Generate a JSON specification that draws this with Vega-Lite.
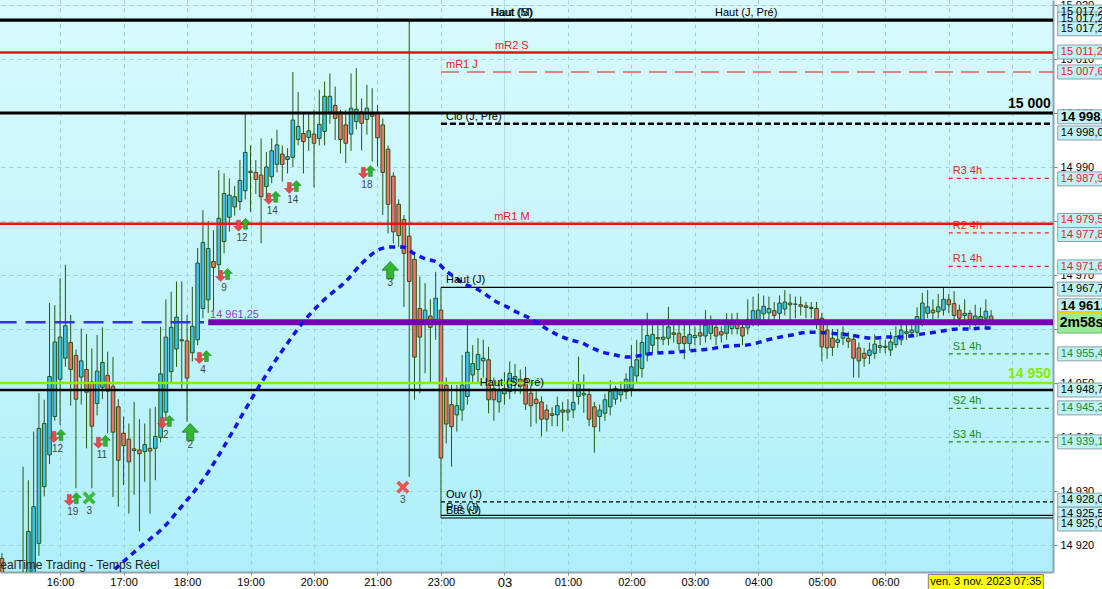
{
"$schema":"https://vega.github.io/schema/vega-lite/v6.json",
"width":1053,"height":572,
"autosize":{"type":"none"},
"padding":{"left":0,"top":0,"right":49,"bottom":17},
"background":"white",
"config":{"view":{"stroke":null,"fill":{"gradient":"linear","x1":0,"y1":0,"x2":0,"y2":1,"stops":[{"offset":0,"color":"#d8fafd"},{"offset":1,"color":"#aeeffa"}]}},"text":{"font":"Liberation Sans"},"axis":{"labelFont":"Liberation Sans"}},
"resolve":{"scale":{"color":"independent","strokeDash":"independent"}},
"datasets":{
"c":[
{"k":1,"o":14917.5,"h":14918.5,"l":14910,"c":14913},
{"k":5,"o":14905,"h":14934.5,"l":14903,"c":14912},
{"k":6,"o":14914,"h":14932,"l":14911,"c":14922.5},
{"k":7,"o":14913,"h":14941,"l":14911,"c":14927.1},
{"k":8,"o":14920.3,"h":14948.1,"l":14918,"c":14941.6},
{"k":9,"o":14930.8,"h":14946.9,"l":14929,"c":14942.5},
{"k":10,"o":14936.7,"h":14964.8,"l":14935,"c":14951.2},
{"k":11,"o":14943.8,"h":14964.4,"l":14943,"c":14957.6},
{"k":12,"o":14950.7,"h":14969.4,"l":14942.2,"c":14958.5},
{"k":13,"o":14954.6,"h":14971.9,"l":14953,"c":14960.6},
{"k":14,"o":14957.5,"h":14962.6,"l":14945.8,"c":14952.5},
{"k":15,"o":14955.1,"h":14956.2,"l":14930.5,"c":14947.0},
{"k":16,"o":14951.1,"h":14960.1,"l":14946,"c":14954.1},
{"k":17,"o":14952.5,"h":14959.1,"l":14937.9,"c":14948.3},
{"k":18,"o":14950.2,"h":14956.4,"l":14930.5,"c":14942.0},
{"k":19,"o":14946.2,"h":14958.9,"l":14944,"c":14952.2},
{"k":20,"o":14949.2,"h":14960.3,"l":14947,"c":14953.8},
{"k":21,"o":14951.4,"h":14955.8,"l":14940.7,"c":14948.5},
{"k":22,"o":14949.4,"h":14954.8,"l":14928.9,"c":14940.9},
{"k":23,"o":14945.6,"h":14947,"l":14927.1,"c":14935.7},
{"k":24,"o":14940.7,"h":14943.8,"l":14931.1,"c":14938.4},
{"k":25,"o":14939.6,"h":14942.5,"l":14925.8,"c":14935.4},
{"k":26,"o":14937.8,"h":14946.5,"l":14929.3,"c":14937.5},
{"k":27,"o":14937.6,"h":14943.3,"l":14922.5,"c":14936.9},
{"k":28,"o":14937.3,"h":14942.5,"l":14931.7,"c":14938.6},
{"k":29,"o":14937.9,"h":14945.3,"l":14925.8,"c":14937.4},
{"k":30,"o":14937.9,"h":14945.6,"l":14932,"c":14940.1},
{"k":31,"o":14939.9,"h":14960.4,"l":14939,"c":14951.7},
{"k":32,"o":14944.6,"h":14965.5,"l":14943,"c":14958.5},
{"k":33,"o":14952.1,"h":14966.9,"l":14950,"c":14960.3},
{"k":34,"o":14956.3,"h":14968.8,"l":14953,"c":14962.2},
{"k":35,"o":14958,"h":14968.8,"l":14949,"c":14957.8},
{"k":36,"o":14957.8,"h":14962.6,"l":14942.8,"c":14950.9},
{"k":37,"o":14955.6,"h":14967.8,"l":14954,"c":14960.5},
{"k":38,"o":14958,"h":14975,"l":14957,"c":14972.2},
{"k":39,"o":14963.8,"h":14982,"l":14962,"c":14976},
{"k":40,"o":14965.4,"h":14980,"l":14963,"c":14974.9},
{"k":41,"o":14972.5,"h":14978.3,"l":14963.5,"c":14971.4},
{"k":42,"o":14971.9,"h":14989.4,"l":14970,"c":14980.5},
{"k":43,"o":14976.2,"h":14988.8,"l":14974,"c":14985.1},
{"k":44,"o":14980.7,"h":14987.9,"l":14978,"c":14984.8},
{"k":45,"o":14982.6,"h":14986.5,"l":14981,"c":14984.5},
{"k":46,"o":14983.6,"h":14991.3,"l":14982,"c":14987.5},
{"k":47,"o":14985.6,"h":15000.2,"l":14984,"c":14992.7},
{"k":48,"o":14989.2,"h":14994,"l":14981.7,"c":14989},
{"k":49,"o":14989,"h":14991.3,"l":14985,"c":14987.7},
{"k":50,"o":14988.5,"h":14995.3,"l":14975.9,"c":14984.5},
{"k":51,"o":14986.4,"h":14992.8,"l":14984,"c":14990},
{"k":52,"o":14988.2,"h":14995.3,"l":14987,"c":14993},
{"k":53,"o":14990.5,"h":14996.9,"l":14989,"c":14994.1},
{"k":54,"o":14992.4,"h":14994,"l":14987.3,"c":14990.5},
{"k":55,"o":14991.4,"h":14993.5,"l":14988.8,"c":14991.9},
{"k":56,"o":14991.8,"h":15007.6,"l":14990,"c":14998.7},
{"k":57,"o":14995.1,"h":15003.9,"l":14994,"c":14997.5},
{"k":58,"o":14996.2,"h":15000,"l":14988.8,"c":14994.7},
{"k":59,"o":14995.5,"h":15000.2,"l":14993,"c":14996.7},
{"k":60,"o":14996.1,"h":15000.6,"l":14986.2,"c":14994.4},
{"k":61,"o":14995.3,"h":15004.3,"l":14994,"c":14997.9},
{"k":62,"o":14996.6,"h":15005.8,"l":14994,"c":15003.1},
{"k":63,"o":15000,"h":15007.3,"l":14998,"c":15003.1},
{"k":64,"o":15001.4,"h":15004.9,"l":14995,"c":14999},
{"k":65,"o":15000.2,"h":15000.6,"l":14992.5,"c":14995.1},
{"k":66,"o":14997.8,"h":15000.6,"l":14990.7,"c":14994.4},
{"k":67,"o":14996.1,"h":15007.3,"l":14993,"c":15000.9},
{"k":68,"o":14998.4,"h":15008.3,"l":14997,"c":15000.7},
{"k":69,"o":15000.2,"h":15002.7,"l":14993.1,"c":14998.1},
{"k":70,"o":14998.8,"h":15005.2,"l":14996,"c":15000.9},
{"k":71,"o":14999.8,"h":15004.6,"l":14991,"c":14999.4},
{"k":72,"o":15000,"h":15001.5,"l":14990.1,"c":14995.4},
{"k":73,"o":14997.8,"h":14999,"l":14981.1,"c":14989},
{"k":74,"o":14993.3,"h":14994,"l":14977.7,"c":14983.1},
{"k":75,"o":14988.3,"h":14989,"l":14975.9,"c":14978},
{"k":76,"o":14983.1,"h":14984,"l":14975.2,"c":14977.3},
{"k":77,"o":14980.3,"h":14981.1,"l":14964.1,"c":14974},
{"k":78,"o":14977.2,"h":15017.2,"l":14932.6,"c":14968.8},
{"k":79,"o":14972.9,"h":14974,"l":14946.9,"c":14954.8},
{"k":80,"o":14963.8,"h":14969.7,"l":14948.1,"c":14958.5},
{"k":81,"o":14961.3,"h":14968.5,"l":14951.8,"c":14963.5},
{"k":82,"o":14962.4,"h":14965.5,"l":14949.9,"c":14960.3},
{"k":83,"o":14961.7,"h":14970.6,"l":14958,"c":14965.7},
{"k":84,"o":14963.5,"h":14967.7,"l":14925,"c":14936.1},
{"k":85,"o":14949.6,"h":14951,"l":14938.8,"c":14942.4},
{"k":86,"o":14946,"h":14949.6,"l":14934.5,"c":14941.9},
{"k":87,"o":14944.1,"h":14949.6,"l":14941,"c":14945.8},
{"k":88,"o":14945,"h":14955.2,"l":14943,"c":14949.6},
{"k":89,"o":14947.5,"h":14961.7,"l":14946,"c":14955.7},
{"k":90,"o":14951.5,"h":14957,"l":14950,"c":14953.6},
{"k":91,"o":14952.5,"h":14958.3,"l":14950,"c":14955.3},
{"k":92,"o":14954.1,"h":14958,"l":14951,"c":14954.6},
{"k":93,"o":14954.3,"h":14956.7,"l":14944.4,"c":14946.9},
{"k":94,"o":14949,"h":14951,"l":14943,"c":14946.9},
{"k":95,"o":14946.5,"h":14950.5,"l":14944.5,"c":14948.6},
{"k":96,"o":14948,"h":14952,"l":14946,"c":14949},
{"k":97,"o":14948.4,"h":14954,"l":14947,"c":14951.8},
{"k":98,"o":14949.9,"h":14953.5,"l":14948,"c":14951.2},
{"k":99,"o":14950.7,"h":14952.5,"l":14948,"c":14949.4},
{"k":100,"o":14950.6,"h":14953,"l":14945,"c":14946.1},
{"k":101,"o":14948.1,"h":14949.5,"l":14941.9,"c":14945.8},
{"k":102,"o":14947,"h":14948.5,"l":14942.5,"c":14946.2},
{"k":103,"o":14946.5,"h":14947.5,"l":14940.1,"c":14943.3},
{"k":104,"o":14945,"h":14946,"l":14941,"c":14943.3},
{"k":105,"o":14944.3,"h":14945.5,"l":14942,"c":14944},
{"k":106,"o":14944.1,"h":14947.5,"l":14942,"c":14945.8},
{"k":107,"o":14945,"h":14946.5,"l":14941,"c":14944.6},
{"k":108,"o":14944.6,"h":14947,"l":14943,"c":14945},
{"k":109,"o":14945,"h":14950.5,"l":14943.5,"c":14946.4},
{"k":110,"o":14947.5,"h":14954.9,"l":14946,"c":14949.8},
{"k":111,"o":14947.8,"h":14951.6,"l":14944.5,"c":14948.1},
{"k":112,"o":14947.9,"h":14949,"l":14942,"c":14943.3},
{"k":113,"o":14945.6,"h":14946.5,"l":14937.1,"c":14941.9},
{"k":114,"o":14943.8,"h":14946,"l":14941,"c":14945},
{"k":115,"o":14944.4,"h":14948,"l":14943,"c":14946.9},
{"k":116,"o":14945.6,"h":14950.5,"l":14944,"c":14948.4},
{"k":117,"o":14947,"h":14949.5,"l":14946,"c":14949},
{"k":118,"o":14947.8,"h":14950.3,"l":14946.5,"c":14948.7},
{"k":119,"o":14948.4,"h":14951.8,"l":14947,"c":14950.7},
{"k":120,"o":14949,"h":14957,"l":14947.5,"c":14953},
{"k":121,"o":14951.3,"h":14958,"l":14950,"c":14954.3},
{"k":122,"o":14952.7,"h":14961.7,"l":14951,"c":14957.5},
{"k":123,"o":14955.2,"h":14963,"l":14954,"c":14958.8},
{"k":124,"o":14957,"h":14961.5,"l":14955.5,"c":14959},
{"k":125,"o":14958.4,"h":14960.7,"l":14955.5,"c":14958.2},
{"k":126,"o":14958.1,"h":14961,"l":14957,"c":14958.5},
{"k":127,"o":14958.3,"h":14964.1,"l":14957,"c":14960.4},
{"k":128,"o":14959.3,"h":14961,"l":14957.5,"c":14959},
{"k":129,"o":14959.2,"h":14961.5,"l":14956,"c":14957.3},
{"k":130,"o":14958.6,"h":14961,"l":14954.4,"c":14957.3},
{"k":131,"o":14957.3,"h":14961,"l":14956,"c":14959},
{"k":132,"o":14958.4,"h":14960.5,"l":14957,"c":14958.8},
{"k":133,"o":14959.3,"h":14961,"l":14957,"c":14958.7},
{"k":134,"o":14958.7,"h":14963.5,"l":14957.5,"c":14960.7},
{"k":135,"o":14959.2,"h":14962.5,"l":14958,"c":14961},
{"k":136,"o":14960.3,"h":14961.5,"l":14957,"c":14958.7},
{"k":137,"o":14959.5,"h":14960.5,"l":14957.5,"c":14958.9},
{"k":138,"o":14959.2,"h":14962.9,"l":14958,"c":14961},
{"k":139,"o":14960.1,"h":14962.9,"l":14959,"c":14960.9},
{"k":140,"o":14960.9,"h":14963,"l":14959,"c":14960.1},
{"k":141,"o":14960.3,"h":14961.5,"l":14957,"c":14958.7},
{"k":142,"o":14960.2,"h":14965.5,"l":14959,"c":14961.7},
{"k":143,"o":14961.6,"h":14966,"l":14960.5,"c":14963.4},
{"k":144,"o":14961.7,"h":14966.6,"l":14960.5,"c":14963.5},
{"k":145,"o":14962.8,"h":14966.2,"l":14961.5,"c":14964.2},
{"k":146,"o":14963,"h":14966,"l":14961.5,"c":14963.8},
{"k":147,"o":14963.4,"h":14965,"l":14961,"c":14962.5},
{"k":148,"o":14962.9,"h":14966.2,"l":14961.5,"c":14964.8},
{"k":149,"o":14963.7,"h":14967.2,"l":14962.5,"c":14965},
{"k":150,"o":14964.8,"h":14966.5,"l":14961.5,"c":14964.5},
{"k":151,"o":14964.6,"h":14966,"l":14962,"c":14964.6},
{"k":152,"o":14964.5,"h":14966,"l":14962.5,"c":14964.2},
{"k":153,"o":14964.3,"h":14965,"l":14962,"c":14964},
{"k":154,"o":14964,"h":14965,"l":14962,"c":14963.8},
{"k":155,"o":14963.8,"h":14965,"l":14960,"c":14961.7},
{"k":156,"o":14962,"h":14963,"l":14954,"c":14956.7},
{"k":157,"o":14959.8,"h":14961,"l":14954.5,"c":14956.5},
{"k":158,"o":14958.3,"h":14960,"l":14955,"c":14956.6},
{"k":159,"o":14957.5,"h":14960,"l":14956.5,"c":14958},
{"k":160,"o":14958.3,"h":14960.5,"l":14957,"c":14959.3},
{"k":161,"o":14958.3,"h":14959.5,"l":14956.5,"c":14957.7},
{"k":162,"o":14958.1,"h":14959,"l":14951,"c":14954.6},
{"k":163,"o":14956.5,"h":14957.5,"l":14951,"c":14954.1},
{"k":164,"o":14955.5,"h":14956.5,"l":14953,"c":14954.6},
{"k":165,"o":14955.1,"h":14957.5,"l":14953.5,"c":14956.1},
{"k":166,"o":14955.5,"h":14959,"l":14954.5,"c":14957.2},
{"k":167,"o":14956.6,"h":14958,"l":14955.5,"c":14956.9},
{"k":168,"o":14956.6,"h":14958,"l":14955.5,"c":14956.8},
{"k":169,"o":14956.1,"h":14959.5,"l":14955,"c":14957.6},
{"k":170,"o":14957.1,"h":14960.5,"l":14956.5,"c":14958.6},
{"k":171,"o":14958,"h":14961.5,"l":14957,"c":14959.8},
{"k":172,"o":14959.2,"h":14961,"l":14958,"c":14959.5},
{"k":173,"o":14959.3,"h":14961,"l":14958.5,"c":14959.8},
{"k":174,"o":14959.4,"h":14964,"l":14958.5,"c":14962.3},
{"k":175,"o":14961.4,"h":14966.7,"l":14960.5,"c":14964.8},
{"k":176,"o":14962.9,"h":14967.2,"l":14962,"c":14964.1},
{"k":177,"o":14963.5,"h":14965.5,"l":14961.5,"c":14963},
{"k":178,"o":14963.2,"h":14966.5,"l":14962,"c":14964.1},
{"k":179,"o":14963.5,"h":14967.6,"l":14962.5,"c":14965.5},
{"k":180,"o":14965.4,"h":14966.5,"l":14963,"c":14964.5},
{"k":181,"o":14964.7,"h":14967,"l":14961,"c":14962.5},
{"k":182,"o":14963.5,"h":14964.5,"l":14960.5,"c":14962},
{"k":183,"o":14962.5,"h":14965.5,"l":14961,"c":14962.9},
{"k":184,"o":14962.9,"h":14963.5,"l":14960,"c":14961.7},
{"k":185,"o":14961.5,"h":14964.5,"l":14960.5,"c":14962.4},
{"k":186,"o":14961.7,"h":14964,"l":14961,"c":14962.3},
{"k":187,"o":14962,"h":14965.5,"l":14960.5,"c":14963.3},
{"k":188,"o":14962.4,"h":14963.5,"l":14960.8,"c":14961.5}
],
"lv":[
{"v":15017.2,"k0":0,"k1":201,"s":"hiS"},
{"v":15011.2,"k0":0,"k1":201,"s":"mR"},
{"v":15007.6,"k0":84,"k1":201,"s":"mRJ"},
{"v":15000,"k0":0,"k1":201,"s":"k15"},
{"v":14998.0,"k0":84,"k1":201,"s":"clo"},
{"v":14987.9,"k0":180,"k1":201,"s":"p4r"},
{"v":14979.5,"k0":0,"k1":201,"s":"mR"},
{"v":14977.8,"k0":180,"k1":201,"s":"p4r"},
{"v":14971.6,"k0":180,"k1":201,"s":"p4r"},
{"v":14967.7,"k0":84,"k1":201,"s":"thin"},
{"v":14961.25,"k0":40,"k1":201,"s":"pur"},
{"v":14961.25,"k0":0,"k1":39.2,"s":"blu"},
{"v":14955.4,"k0":180,"k1":201,"s":"p4s"},
{"v":14950,"k0":0,"k1":201,"s":"lim"},
{"v":14948.7,"k0":0,"k1":201,"s":"hsp"},
{"v":14945.3,"k0":180,"k1":201,"s":"p4s"},
{"v":14939.1,"k0":180,"k1":201,"s":"p4s"},
{"v":14928.0,"k0":84,"k1":201,"s":"ouv"},
{"v":14925.5,"k0":84,"k1":201,"s":"thin"},
{"v":14925.0,"k0":84,"k1":201,"s":"thin"}
],
"ma":[
{"k":19.5,"v":14912.5},{"k":21.8,"v":14915.0},{"k":24.3,"v":14917.2},{"k":27.1,"v":14919.6},{"k":31.6,"v":14923.3},{"k":35.2,"v":14927.4},{"k":38.6,"v":14931.5},{"k":41.8,"v":14936.3},{"k":44.8,"v":14941.3},{"k":47.5,"v":14945.9},{"k":50.7,"v":14951.1},{"k":54.5,"v":14956.7},{"k":58.3,"v":14961.7},{"k":62.1,"v":14965.6},{"k":65.9,"v":14968.7},{"k":69.1,"v":14972.2},{"k":72.5,"v":14974.8},{"k":74.7,"v":14975.2},{"k":76.8,"v":14975.2},{"k":78.7,"v":14974.1},{"k":81.0,"v":14973.0},{"k":83.2,"v":14972.4},{"k":84.8,"v":14970.9},{"k":86.6,"v":14969.6},{"k":88.5,"v":14968.3},{"k":90.4,"v":14967.6},{"k":92.3,"v":14966.5},{"k":94.2,"v":14965.2},{"k":96.5,"v":14964.1},{"k":98.4,"v":14963.1},{"k":100.4,"v":14962.2},{"k":104.0,"v":14960.0},{"k":106.1,"v":14958.9},{"k":108.4,"v":14958.0},{"k":110.7,"v":14957.4},{"k":112.5,"v":14956.5},{"k":114.6,"v":14955.7},{"k":116.9,"v":14955.2},{"k":119.2,"v":14954.8},{"k":121.2,"v":14955.0},{"k":123.5,"v":14955.4},{"k":125.8,"v":14955.6},{"k":127.9,"v":14955.7},{"k":130.5,"v":14955.9},{"k":132.6,"v":14956.1},{"k":134.9,"v":14956.3},{"k":137.1,"v":14956.7},{"k":139.2,"v":14956.9},{"k":141.5,"v":14957.0},{"k":143.7,"v":14957.4},{"k":145.8,"v":14958.0},{"k":148.1,"v":14958.5},{"k":150.4,"v":14958.9},{"k":152.4,"v":14959.3},{"k":154.7,"v":14959.4},{"k":157.0,"v":14959.3},{"k":159.0,"v":14959.1},{"k":161.3,"v":14958.9},{"k":163.6,"v":14958.5},{"k":165.7,"v":14958.3},{"k":168.3,"v":14958.5},{"k":170.4,"v":14958.5},{"k":172.7,"v":14958.7},{"k":175.1,"v":14959.1},{"k":177.4,"v":14959.4},{"k":179.7,"v":14959.8},{"k":181.7,"v":14960.0},{"k":184.0,"v":14960.0},{"k":186.3,"v":14960.2},{"k":188.3,"v":14960.2}
],
"sig":[
{"k":11.5,"v":14940.2,"n":"12","t":"pair"},
{"k":14.4,"v":14928.5,"n":"19","t":"pair"},
{"k":17.5,"v":14928.7,"n":"3","t":"xg"},
{"k":19.9,"v":14939.1,"n":"11","t":"pair"},
{"k":32.0,"v":14942.8,"n":"2","t":"pair"},
{"k":36.6,"v":14940.9,"n":"2","t":"up"},
{"k":39.0,"v":14954.8,"n":"4","t":"pair"},
{"k":43.0,"v":14970.0,"n":"9","t":"pair"},
{"k":46.4,"v":14979.3,"n":"12","t":"pair"},
{"k":52.1,"v":14984.3,"n":"14","t":"pair"},
{"k":56.0,"v":14986.3,"n":"14","t":"pair"},
{"k":70.0,"v":14989.1,"n":"18","t":"pair"},
{"k":74.4,"v":14970.9,"n":"3","t":"up"},
{"k":76.8,"v":14930.7,"n":"3","t":"xr"}
],
"lab":[
{"k":97.4,"v":15017.2,"t":"Haut (S)","col":"b","al":"C"},
{"k":97.4,"v":15017.2,"t":"Haut (M)","col":"b","al":"C"},
{"k":141.7,"v":15017.2,"t":"Haut (J, Pré)","col":"b","al":"C"},
{"k":97.4,"v":15011.2,"t":"mR2 S","col":"r","al":"C"},
{"k":84,"v":15007.6,"t":"mR1 J","col":"r","al":"L"},
{"k":84,"v":14998.0,"t":"Clô (J, Pré)","col":"b","al":"L"},
{"k":179.8,"v":14987.9,"t":"R3 4h","col":"r","al":"L"},
{"k":97.4,"v":14979.5,"t":"mR1 M","col":"r","al":"C"},
{"k":179.8,"v":14977.8,"t":"R2 4h","col":"r","al":"L"},
{"k":179.8,"v":14971.6,"t":"R1 4h","col":"r","al":"L"},
{"k":84,"v":14967.7,"t":"Haut (J)","col":"b","al":"L"},
{"k":39.4,"v":14961.25,"t":"14 961,25","col":"p","al":"L"},
{"k":179.8,"v":14955.4,"t":"S1 4h","col":"g","al":"L"},
{"k":97.4,"v":14948.7,"t":"Haut (S, Pré)","col":"b","al":"C"},
{"k":179.8,"v":14945.3,"t":"S2 4h","col":"g","al":"L"},
{"k":179.8,"v":14939.1,"t":"S3 4h","col":"g","al":"L"},
{"k":84,"v":14928.0,"t":"Ouv (J)","col":"b","al":"L"},
{"k":84,"v":14925.5,"t":"Pré (J)","col":"b","al":"L"},
{"k":84,"v":14925.0,"t":"Bas (J)","col":"b","al":"L"},
{"k":199.3,"v":15000,"t":"15 000","col":"b","al":"R"},
{"k":199.3,"v":14950,"t":"14 950","col":"l","al":"R"}
],
"tag":[
{"v":15018.7,"t":"15 017,2","col":"b","b":"n"},
{"v":15017.4,"t":"15 017,2","col":"b","b":"n"},
{"v":15015.6,"t":"15 017,2","col":"b","b":"n"},
{"v":15011.3,"t":"15 011,2","col":"r","b":"n"},
{"v":15007.6,"t":"15 007,6","col":"r","b":"n"},
{"v":14999.3,"t":"14 998,5","col":"b","b":"y"},
{"v":14996.3,"t":"14 998,0","col":"b","b":"n"},
{"v":14987.8,"t":"14 987,9","col":"r","b":"n"},
{"v":14980.1,"t":"14 979,5","col":"r","b":"n"},
{"v":14977.5,"t":"14 977,8","col":"r","b":"n"},
{"v":14971.5,"t":"14 971,6","col":"r","b":"n"},
{"v":14967.4,"t":"14 967,7","col":"b","b":"n"},
{"v":14964.3,"t":"14 961,5","col":"b","b":"y"},
{"v":14955.4,"t":"14 955,4","col":"g","b":"n"},
{"v":14948.7,"t":"14 948,7","col":"b","b":"n"},
{"v":14945.4,"t":"14 945,3","col":"g","b":"n"},
{"v":14939.1,"t":"14 939,1","col":"g","b":"n"},
{"v":14928.3,"t":"14 928,0","col":"b","b":"n"},
{"v":14925.7,"t":"14 925,5","col":"b","b":"n"},
{"v":14923.9,"t":"14 925,0","col":"b","b":"n"}
]
},
"layer":[
{"data":{"values":[{"k":96,"v":14950}]},"mark":{"type":"rule","color":"#b0dce4","strokeWidth":1},
 "encoding":{"x":{"field":"k","type":"quantitative","scale":{"domain":[0.64,199.7],"nice":false,"zero":false,"padding":0},
  "axis":{"values":[0,12,24,36,48,60,72,84,96,108,120,132,144,156,168,180,192],
   "labelExpr":"['15:00','16:00','17:00','18:00','19:00','20:00','21:00','23:00','03','01:00','02:00','03:00','04:00','05:00','06:00','07:00','08:00'][round(datum.value/12)]",
   "title":null,"grid":true,"gridColor":"#a3d0d8","gridDash":[4,4],"domainColor":"#8ea4ac","domainWidth":2,"tickColor":"#7a8f97","tickSize":3,"labelPadding":1,
   "labelFontSize":{"condition":{"test":"datum.value == 96","value":13},"value":11},"labelColor":"#000000","labelFlush":false,"labelOverlap":false}}}},
{"data":{"name":"c"},"mark":{"type":"rule","clip":true,"color":"#2b5512","strokeWidth":1},
 "encoding":{"x":{"field":"k","type":"quantitative","scale":{"domain":[0.64,199.7],"nice":false,"zero":false,"padding":0}},
  "y":{"field":"l","type":"quantitative","scale":{"domain":[14915,15020.93],"nice":false,"zero":false,"padding":0},
   "axis":{"orient":"right","values":[14920,14930,14940,14950,14960,14970,14980,14990,15000,15010,15020],
    "labelExpr":"replace(format(datum.value, ',d'), ',', ' ')","title":null,"grid":true,"gridColor":"#a3d0d8","gridDash":[4,4],
    "domainColor":"#8ea4ac","domainWidth":2,"tickColor":"#7a8f97","tickSize":4,"labelPadding":3,"labelFontSize":11,"labelColor":"#000000","labelFlush":false,"labelOverlap":false}},
  "y2":{"field":"h"}}},
{"data":{"name":"c"},"mark":{"type":"bar","clip":true,"width":3.6,"stroke":"#2b5512","strokeWidth":1},
 "encoding":{"x":{"field":"k","type":"quantitative","scale":{"domain":[0.64,199.7],"nice":false,"zero":false,"padding":0}},
  "y":{"field":"o","type":"quantitative","scale":{"domain":[14915,15020.93],"nice":false,"zero":false,"padding":0}},
  "y2":{"field":"c"},
  "fill":{"condition":{"test":"datum.c >= datum.o","value":"#3cc3ef"},"value":"#f2716a"}}},
{"data":{"name":"lv"},"transform":[{"filter":{"field":"s","oneOf":["p4r","p4s","mRJ","thin","ouv"]}}],
 "mark":{"type":"rule","clip":true,"strokeWidth":1.2},
 "encoding":{"x":{"field":"k0","type":"quantitative","scale":{"domain":[0.64,199.7],"nice":false,"zero":false,"padding":0}},"x2":{"field":"k1"},
  "y":{"field":"v","type":"quantitative","scale":{"domain":[14915,15020.93],"nice":false,"zero":false,"padding":0}},
  "color":{"field":"s","type":"nominal","scale":{"domain":["p4r","p4s","mRJ","thin","ouv"],"range":["#ee2020","#148f14","#ee1111","#000000","#000000"]},"legend":null},
  "strokeDash":{"field":"s","type":"nominal","scale":{"domain":["p4r","p4s","mRJ","thin","ouv"],"range":[[4,4],[4,4],[18,8],[1,0],[4,3]]},"legend":null}}},
{"data":{"name":"lv"},"transform":[{"filter":{"field":"s","oneOf":["hsp","mR","clo","blu","lim"]}}],
 "mark":{"type":"rule","clip":true,"strokeWidth":2.4},
 "encoding":{"x":{"field":"k0","type":"quantitative","scale":{"domain":[0.64,199.7],"nice":false,"zero":false,"padding":0}},"x2":{"field":"k1"},
  "y":{"field":"v","type":"quantitative","scale":{"domain":[14915,15020.93],"nice":false,"zero":false,"padding":0}},
  "color":{"field":"s","type":"nominal","scale":{"domain":["hsp","mR","clo","blu","lim"],"range":["#000000","#ee1111","#000000","#3434dc","#88ee00"]},"legend":null},
  "strokeDash":{"field":"s","type":"nominal","scale":{"domain":["hsp","mR","clo","blu","lim"],"range":[[1,0],[1,0],[6,3],[20,9],[1,0]]},"legend":null}}},
{"data":{"name":"lv"},"transform":[{"filter":{"field":"s","oneOf":["hiS","k15"]}}],
 "mark":{"type":"rule","clip":true,"strokeWidth":3.2,"color":"#000000"},
 "encoding":{"x":{"field":"k0","type":"quantitative","scale":{"domain":[0.64,199.7],"nice":false,"zero":false,"padding":0}},"x2":{"field":"k1"},
  "y":{"field":"v","type":"quantitative","scale":{"domain":[14915,15020.93],"nice":false,"zero":false,"padding":0}}}},
{"data":{"name":"lv"},"transform":[{"filter":{"field":"s","equal":"pur"}}],
 "mark":{"type":"rule","clip":true,"strokeWidth":6,"color":"#7500b0"},
 "encoding":{"x":{"field":"k0","type":"quantitative","scale":{"domain":[0.64,199.7],"nice":false,"zero":false,"padding":0}},"x2":{"field":"k1"},
  "y":{"field":"v","type":"quantitative","scale":{"domain":[14915,15020.93],"nice":false,"zero":false,"padding":0}}}},
{"data":{"name":"ma"},"mark":{"type":"line","clip":true,"color":"#1414e8","strokeWidth":3.5,"strokeDash":[6,5],"interpolate":"monotone"},
 "encoding":{"x":{"field":"k","type":"quantitative","scale":{"domain":[0.64,199.7],"nice":false,"zero":false,"padding":0}},
  "y":{"field":"v","type":"quantitative","scale":{"domain":[14915,15020.93],"nice":false,"zero":false,"padding":0}}}},
{"data":{"name":"sig"},"transform":[{"filter":"datum.t == 'pair'"}],
 "mark":{"type":"point","shape":"M0,1L0.9,0.1L0.35,0.1L0.35,-1L-0.35,-1L-0.35,0.1L-0.9,0.1Z","filled":true,"fill":"#e84848","stroke":"#b83030","strokeWidth":0.5,"size":121,"opacity":1,"xOffset":-3.5,"yOffset":1},
 "encoding":{"x":{"field":"k","type":"quantitative","scale":{"domain":[0.64,199.7],"nice":false,"zero":false,"padding":0}},
  "y":{"field":"v","type":"quantitative","scale":{"domain":[14915,15020.93],"nice":false,"zero":false,"padding":0}}}},
{"data":{"name":"sig"},"transform":[{"filter":"datum.t == 'pair'"}],
 "mark":{"type":"point","shape":"M0,-1L0.9,-0.1L0.35,-0.1L0.35,1L-0.35,1L-0.35,-0.1L-0.9,-0.1Z","filled":true,"fill":"#2eb12e","stroke":"#1f7f1f","strokeWidth":0.5,"size":121,"opacity":1,"xOffset":3.5,"yOffset":-1},
 "encoding":{"x":{"field":"k","type":"quantitative","scale":{"domain":[0.64,199.7],"nice":false,"zero":false,"padding":0}},
  "y":{"field":"v","type":"quantitative","scale":{"domain":[14915,15020.93],"nice":false,"zero":false,"padding":0}}}},
{"data":{"name":"sig"},"transform":[{"filter":"datum.t == 'up'"}],
 "mark":{"type":"point","shape":"M0,-1L0.95,0L0.4,0L0.4,1L-0.4,1L-0.4,0L-0.95,0Z","filled":true,"fill":"#33b533","stroke":"#1f7f1f","strokeWidth":0.8,"size":300,"opacity":1},
 "encoding":{"x":{"field":"k","type":"quantitative","scale":{"domain":[0.64,199.7],"nice":false,"zero":false,"padding":0}},
  "y":{"field":"v","type":"quantitative","scale":{"domain":[14915,15020.93],"nice":false,"zero":false,"padding":0}}}},
{"data":{"name":"sig"},"transform":[{"filter":"datum.t == 'xg'"}],
 "mark":{"type":"point","shape":"M-1,-0.6L-0.6,-1L0,-0.4L0.6,-1L1,-0.6L0.4,0L1,0.6L0.6,1L0,0.4L-0.6,1L-1,0.6L-0.4,0Z","filled":true,"fill":"#3dbb3d","size":170,"opacity":1},
 "encoding":{"x":{"field":"k","type":"quantitative","scale":{"domain":[0.64,199.7],"nice":false,"zero":false,"padding":0}},
  "y":{"field":"v","type":"quantitative","scale":{"domain":[14915,15020.93],"nice":false,"zero":false,"padding":0}}}},
{"data":{"name":"sig"},"transform":[{"filter":"datum.t == 'xr'"}],
 "mark":{"type":"point","shape":"M-1,-0.6L-0.6,-1L0,-0.4L0.6,-1L1,-0.6L0.4,0L1,0.6L0.6,1L0,0.4L-0.6,1L-1,0.6L-0.4,0Z","filled":true,"fill":"#ee5555","size":170,"opacity":1},
 "encoding":{"x":{"field":"k","type":"quantitative","scale":{"domain":[0.64,199.7],"nice":false,"zero":false,"padding":0}},
  "y":{"field":"v","type":"quantitative","scale":{"domain":[14915,15020.93],"nice":false,"zero":false,"padding":0}}}},
{"data":{"name":"sig"},"mark":{"type":"text","dy":13,"fontSize":10,"color":"#444444"},
 "encoding":{"x":{"field":"k","type":"quantitative","scale":{"domain":[0.64,199.7],"nice":false,"zero":false,"padding":0}},
  "y":{"field":"v","type":"quantitative","scale":{"domain":[14915,15020.93],"nice":false,"zero":false,"padding":0}},
  "text":{"field":"n"}}},
{"data":{"name":"lab"},"transform":[{"filter":"datum.al == 'L'"}],
 "mark":{"type":"text","align":"left","baseline":"bottom","dx":5,"dy":-2,"fontSize":11},
 "encoding":{"x":{"field":"k","type":"quantitative","scale":{"domain":[0.64,199.7],"nice":false,"zero":false,"padding":0}},
  "y":{"field":"v","type":"quantitative","scale":{"domain":[14915,15020.93],"nice":false,"zero":false,"padding":0}},
  "text":{"field":"t"},
  "color":{"field":"col","type":"nominal","scale":{"domain":["b","r","g","p","l"],"range":["#000000","#e81818","#168f16","#9440c8","#88e800"]},"legend":null}}},
{"data":{"name":"lab"},"transform":[{"filter":"datum.al == 'C'"}],
 "mark":{"type":"text","align":"center","baseline":"bottom","dy":-2,"fontSize":11},
 "encoding":{"x":{"field":"k","type":"quantitative","scale":{"domain":[0.64,199.7],"nice":false,"zero":false,"padding":0}},
  "y":{"field":"v","type":"quantitative","scale":{"domain":[14915,15020.93],"nice":false,"zero":false,"padding":0}},
  "text":{"field":"t"},
  "color":{"field":"col","type":"nominal","scale":{"domain":["b","r","g","p","l"],"range":["#000000","#e81818","#168f16","#9440c8","#88e800"]},"legend":null}}},
{"data":{"name":"lab"},"transform":[{"filter":"datum.al == 'R'"}],
 "mark":{"type":"text","align":"right","baseline":"bottom","dy":-2,"fontSize":14,"fontWeight":"bold"},
 "encoding":{"x":{"field":"k","type":"quantitative","scale":{"domain":[0.64,199.7],"nice":false,"zero":false,"padding":0}},
  "y":{"field":"v","type":"quantitative","scale":{"domain":[14915,15020.93],"nice":false,"zero":false,"padding":0}},
  "text":{"field":"t"},
  "color":{"field":"col","type":"nominal","scale":{"domain":["b","r","g","p","l"],"range":["#000000","#e81818","#168f16","#9440c8","#88e800"]},"legend":null}}},
{"data":{"name":"tag"},
 "mark":{"type":"point","shape":"M0,-0.14L1,-0.14L1,0.14L0,0.14Z","filled":true,"fill":"#c0f1f7","stroke":"#8aa0a8","strokeWidth":1,"size":10000,"opacity":1},
 "encoding":{"x":{"datum":200.6,"type":"quantitative","scale":{"domain":[0.64,199.7],"nice":false,"zero":false,"padding":0}},
  "y":{"field":"v","type":"quantitative","scale":{"domain":[14915,15020.93],"nice":false,"zero":false,"padding":0}}}},
{"data":{"name":"tag"},"transform":[{"filter":"datum.b == 'n'"}],
 "mark":{"type":"text","align":"left","baseline":"middle","dx":3,"fontSize":11},
 "encoding":{"x":{"datum":200.6,"type":"quantitative","scale":{"domain":[0.64,199.7],"nice":false,"zero":false,"padding":0}},
  "y":{"field":"v","type":"quantitative","scale":{"domain":[14915,15020.93],"nice":false,"zero":false,"padding":0}},
  "text":{"field":"t"},
  "color":{"field":"col","type":"nominal","scale":{"domain":["b","r","g"],"range":["#000000","#e81818","#168f16"]},"legend":null}}},
{"data":{"name":"tag"},"transform":[{"filter":"datum.b == 'y'"}],
 "mark":{"type":"text","align":"left","baseline":"middle","dx":3,"fontSize":13,"fontWeight":"bold","color":"#000000"},
 "encoding":{"x":{"datum":200.6,"type":"quantitative","scale":{"domain":[0.64,199.7],"nice":false,"zero":false,"padding":0}},
  "y":{"field":"v","type":"quantitative","scale":{"domain":[14915,15020.93],"nice":false,"zero":false,"padding":0}},
  "text":{"field":"t"}}},
{"data":{"values":[{"v":14961.2,"t":"2m58s"}]},
 "mark":{"type":"point","shape":"M0,-0.21L0.88,-0.21L0.88,0.21L0,0.21Z","filled":true,"fill":"#99ec99","stroke":"#6cb86c","strokeWidth":1,"size":10000,"opacity":1},
 "encoding":{"x":{"datum":200.6,"type":"quantitative","scale":{"domain":[0.64,199.7],"nice":false,"zero":false,"padding":0}},
  "y":{"field":"v","type":"quantitative","scale":{"domain":[14915,15020.93],"nice":false,"zero":false,"padding":0}}}},
{"data":{"values":[{"v":14961.2,"t":"2m58s"}]},
 "mark":{"type":"point","shape":"M0,-0.22L0.88,-0.22L0.88,-0.18L0,-0.18Z","filled":true,"fill":"#f7d000","size":10000,"opacity":1},
 "encoding":{"x":{"datum":200.6,"type":"quantitative","scale":{"domain":[0.64,199.7],"nice":false,"zero":false,"padding":0}},
  "y":{"field":"v","type":"quantitative","scale":{"domain":[14915,15020.93],"nice":false,"zero":false,"padding":0}}}},
{"data":{"values":[{"v":14961.2,"t":"2m58s"}]},
 "mark":{"type":"text","align":"left","baseline":"middle","dx":2,"fontSize":14,"fontWeight":"bold","color":"#000000"},
 "encoding":{"x":{"datum":200.6,"type":"quantitative","scale":{"domain":[0.64,199.7],"nice":false,"zero":false,"padding":0}},
  "y":{"field":"v","type":"quantitative","scale":{"domain":[14915,15020.93],"nice":false,"zero":false,"padding":0}},
  "text":{"field":"t"}}},
{"data":{"values":[{"k":187,"v":14913.15,"t":"ven. 3 nov. 2023 07:35"}]},
 "mark":{"type":"point","shape":"M-1,-0.13L1,-0.13L1,0.13L-1,0.13Z","filled":true,"fill":"#ffff00","stroke":"#808080","strokeWidth":1,"size":13225,"opacity":1},
 "encoding":{"x":{"field":"k","type":"quantitative","scale":{"domain":[0.64,199.7],"nice":false,"zero":false,"padding":0}},
  "y":{"field":"v","type":"quantitative","scale":{"domain":[14915,15020.93],"nice":false,"zero":false,"padding":0}}}},
{"data":{"values":[{"k":187,"v":14913.15,"t":"ven. 3 nov. 2023 07:35"}]},
 "mark":{"type":"text","align":"center","baseline":"middle","fontSize":11,"color":"#000000"},
 "encoding":{"x":{"field":"k","type":"quantitative","scale":{"domain":[0.64,199.7],"nice":false,"zero":false,"padding":0}},
  "y":{"field":"v","type":"quantitative","scale":{"domain":[14915,15020.93],"nice":false,"zero":false,"padding":0}},
  "text":{"field":"t"}}},
{"data":{"values":[{"k":0,"v":14916.3,"t":"RealTime Trading - Temps Réel"}]},
 "mark":{"type":"text","align":"left","baseline":"middle","dx":-5,"fontSize":12,"color":"#222222"},
 "encoding":{"x":{"field":"k","type":"quantitative","scale":{"domain":[0.64,199.7],"nice":false,"zero":false,"padding":0}},
  "y":{"field":"v","type":"quantitative","scale":{"domain":[14915,15020.93],"nice":false,"zero":false,"padding":0}},
  "text":{"field":"t"}}}
]
}
